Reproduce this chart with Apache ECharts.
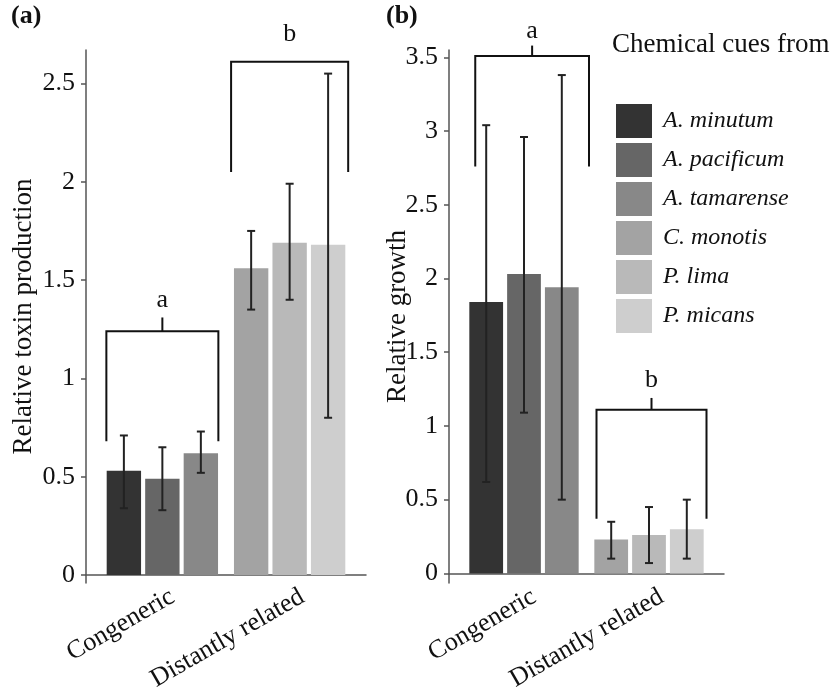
<!DOCTYPE html>
<html>
<head>
<meta charset="utf-8">
<script src="https://cdn.jsdelivr.net/npm/echarts@6/dist/echarts.min.js"></script>
<style>
  html, body { margin: 0; padding: 0; background: #fff; }
  #chart { width: 832px; height: 694px; }
</style>
</head>
<body>
<div id="chart"></div>
<script>
const species = ['A. minutum', 'A. pacificum', 'A. tamarense', 'C. monotis', 'P. lima', 'P. micans']
const speciesColors = ['#333333', '#666666', '#888888', '#a3a3a3', '#b9b9b9', '#cecece']
const groups = ['Congeneric', 'Distantly related']
const speciesGroup = [0, 0, 0, 1, 1, 1]

// (a) relative toxin production
const toxinMean = [0.53, 0.49, 0.62, 1.56, 1.69, 1.68]
const toxinLow = [0.34, 0.33, 0.52, 1.35, 1.40, 0.80]
const toxinHigh = [0.71, 0.65, 0.73, 1.75, 1.99, 2.55]

// (b) relative growth
const growthMean = [1.84, 2.03, 1.94, 0.23, 0.26, 0.30]
const growthLow = [0.62, 1.09, 0.50, 0.10, 0.07, 0.10]
const growthHigh = [3.04, 2.96, 3.38, 0.35, 0.45, 0.50]

const toxinTicks = [0, 0.5, 1, 1.5, 2, 2.5]
const growthTicks = [0, 0.5, 1, 1.5, 2, 2.5, 3, 3.5]

// significance brackets: x from, x to, top, leg end, stem top (null = none), letter, letter y
const toxinBrackets = [
  [0.56, 1.44, 1.24, 0.68, 1.31, 'a', 1.40],
  [1.54, 2.46, 2.61, 2.05, null, 'b', 2.75]
]
const growthBrackets = [
  [0.61, 1.52, 3.51, 2.76, 3.58, 'a', 3.68],
  [1.58, 2.46, 1.11, 0.37, 1.19, 'b', 1.31]
]

const font = '"Liberation Serif", "Times New Roman", serif'
const ink = '#111'
const axisColor = '#555'

const chart = echarts.init(document.getElementById('chart'))

function errorItem(params, api) {
  const x = api.value(0)
  const slot = api.value(3)
  const band = api.size([1, 0])[0]
  const bw = band * 0.27
  const gap = bw * 0.12
  const cx = api.coord([x, 0])[0] + (slot - 1) * (bw + gap)
  const yLo = api.coord([x, api.value(1)])[1]
  const yHi = api.coord([x, api.value(2)])[1]
  const st = { stroke: '#222', lineWidth: 2 }
  const cap = 4
  return {
    type: 'group',
    children: [
      { type: 'line', shape: { x1: cx, y1: yLo, x2: cx, y2: yHi }, style: st },
      { type: 'line', shape: { x1: cx - cap, y1: yLo, x2: cx + cap, y2: yLo }, style: st },
      { type: 'line', shape: { x1: cx - cap, y1: yHi, x2: cx + cap, y2: yHi }, style: st }
    ]
  }
}

function bracketRenderer(list) {
  return function (params, api) {
    const b = list[params.dataIndex]
    const pL = api.coord([b[0], b[2]])
    const pR = api.coord([b[1], b[2]])
    const bL = api.coord([b[0], b[3]])
    const bR = api.coord([b[1], b[3]])
    const midX = (pL[0] + pR[0]) / 2
    const st = { stroke: '#111', lineWidth: 2, fill: null }
    const children = [
      { type: 'polyline', shape: { points: [bL, pL, pR, bR] }, style: st }
    ]
    if (b[4] != null) {
      const sy = api.coord([b[0], b[4]])[1]
      children.push({ type: 'line', shape: { x1: midX, y1: pL[1], x2: midX, y2: sy }, style: st })
    }
    const ly = api.coord([b[0], b[6]])[1]
    children.push({
      type: 'text', x: midX, y: ly,
      style: { text: b[5], fill: ink, font: '26px ' + font, align: 'center', verticalAlign: 'middle' }
    })
    return { type: 'group', children }
  }
}

function panelSeries(mean, low, high, brackets, idx) {
  const bars = species.map((name, i) => ({
    name,
    type: 'bar',
    xAxisIndex: idx,
    yAxisIndex: idx,
    stack: 'p' + idx + '_' + (i % 3),
    barWidth: '27%',
    barGap: '12%',
    silent: true,
    itemStyle: { color: speciesColors[i] },
    data: groups.map((g, gi) => [gi + 1, speciesGroup[i] === gi ? mean[i] : '-'])
  }))
  const errors = {
    type: 'custom',
    xAxisIndex: idx,
    yAxisIndex: idx,
    silent: true,
    clip: false,
    z: 5,
    renderItem: errorItem,
    encode: { x: 0, y: [1, 2] },
    data: species.map((s, i) => [speciesGroup[i] + 1, low[i], high[i], i % 3])
  }
  const marks = {
    type: 'custom',
    xAxisIndex: idx,
    yAxisIndex: idx,
    silent: true,
    clip: false,
    z: 6,
    renderItem: bracketRenderer(brackets),
    encode: { x: [0, 1], y: [2, 3] },
    data: brackets.map(b => [b[0], b[1], b[2], b[3]])
  }
  return [...bars, errors, marks]
}

function xAxisFor(idx) {
  return {
    type: 'value',
    gridIndex: idx,
    min: 0.4,
    max: 2.6,
    splitLine: { show: false },
    axisTick: { show: false },
    axisLine: { onZero: true, lineStyle: { color: axisColor, width: 1.5 } },
    axisLabel: {
      customValues: [1.08, 2.1],
      formatter: v => groups[Math.round(v) - 1],
      rotate: 30,
      margin: 12,
      fontSize: 26,
      fontFamily: font,
      color: ink
    }
  }
}

function yAxisFor(idx, min, max, ticks, name, gap) {
  return {
    type: 'value',
    gridIndex: idx,
    min,
    max,
    splitLine: { show: false },
    axisLine: { show: true, onZero: false, lineStyle: { color: axisColor, width: 1.5 } },
    axisTick: { show: true, customValues: ticks, length: 5, lineStyle: { color: axisColor, width: 1.5 } },
    axisLabel: { customValues: ticks, margin: 11, fontSize: 26, fontFamily: font, color: ink },
    name,
    nameLocation: 'middle',
    nameGap: gap,
    nameMoveOverlap: false,
    nameTextStyle: { fontSize: 27, fontFamily: font, color: ink }
  }
}

const option = {
  animation: false,
  backgroundColor: '#fff',
  title: [
    { text: '(a)', left: 11, top: 3, padding: 0, textStyle: { fontSize: 26, fontWeight: 'bold', fontFamily: font, color: ink } },
    { text: '(b)', left: 386, top: 3, padding: 0, textStyle: { fontSize: 26, fontWeight: 'bold', fontFamily: font, color: ink } },
    { text: 'Chemical cues from', left: 612, top: 31, padding: 0, textStyle: { fontSize: 27, fontWeight: 'normal', fontFamily: font, color: ink } }
  ],
  legend: {
    data: species,
    orient: 'vertical',
    left: 616,
    top: 104,
    padding: 0,
    itemWidth: 36,
    itemHeight: 34,
    itemGap: 5,
    icon: 'rect',
    selectedMode: false,
    textStyle: { fontSize: 24, fontStyle: 'italic', fontFamily: font, color: ink, padding: [0, 0, 0, 6] }
  },
  grid: [
    { left: 86, right: 466, top: 50, bottom: 103 },
    { left: 449, right: 108, top: 50, bottom: 102 }
  ],
  xAxis: [xAxisFor(0), xAxisFor(1)],
  yAxis: [
    yAxisFor(0, -0.04, 2.67, toxinTicks, 'Relative toxin production', 49),
    yAxisFor(1, -0.065, 3.55, growthTicks, 'Relative growth', 38)
  ],
  series: [
    ...panelSeries(toxinMean, toxinLow, toxinHigh, toxinBrackets, 0),
    ...panelSeries(growthMean, growthLow, growthHigh, growthBrackets, 1)
  ]
}

chart.setOption(option)
window.addEventListener('resize', () => chart.resize())
</script>
</body>
</html>
